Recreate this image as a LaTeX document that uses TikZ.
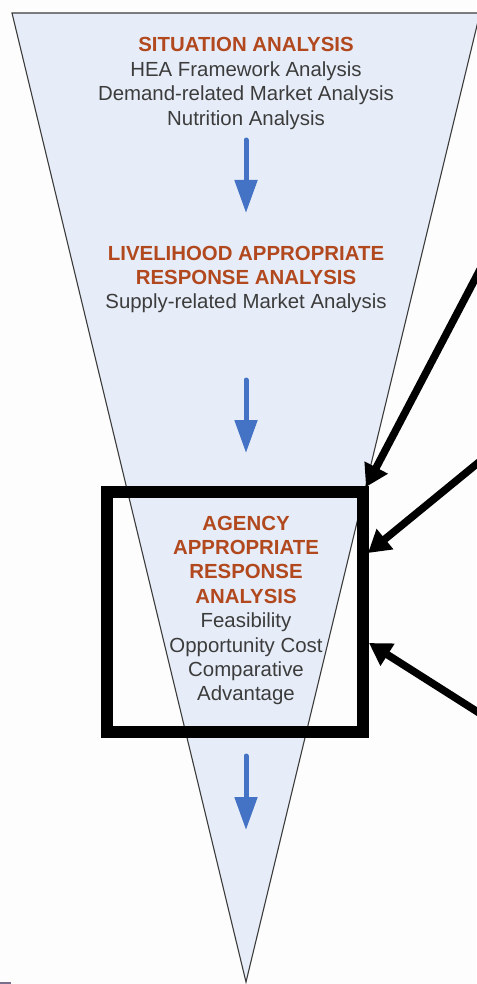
\documentclass[tikz,border=0pt]{standalone}
\usepackage{fontspec}
\setmainfont{Liberation Sans}
\usetikzlibrary{arrows.meta}
\definecolor{funnelfill}{RGB}{230,237,248}
\definecolor{funneledge}{RGB}{60,60,60}
\definecolor{headcol}{RGB}{178,72,30}
\definecolor{bodycol}{RGB}{60,60,60}
\definecolor{flowblue}{RGB}{68,114,196}
\definecolor{bgcol}{RGB}{253,253,253}
\definecolor{markcol}{RGB}{120,110,140}
\tikzset{
  headline/.style={anchor=base, inner sep=0pt, text=headcol, font=\fontsize{20.4}{24.4}\selectfont\bfseries},
  bodyline/.style={anchor=base, inner sep=0pt, text=bodycol, font=\fontsize{20.4}{24.4}\selectfont},
  flowarrow/.style={draw=flowblue, line width=5pt, -{Triangle[length=33pt,width=22pt]}, shorten >=0pt},
  pointer/.style={draw=black, line width=7.5pt, -{Triangle[length=22pt,width=25pt]}},
  focusbox/.style={draw=black, line width=12pt, minimum width=256pt, minimum height=239.5pt, inner sep=0pt}
}
\begin{document}
\begin{tikzpicture}[x=1pt,y=-1pt]
\useasboundingbox (0,0) rectangle (476,984);
\fill[bgcol] (0,0) rectangle (476,984);
\fill[markcol] (0,982) rectangle (11,984);
% funnel
\filldraw[fill=funnelfill, draw=funneledge, line width=1.1pt, line join=miter] (12,13) -- (480,13) -- (246,982) -- cycle;
% block 1
\node[headline] (s1) at (246,52) {SITUATION ANALYSIS};
\node[bodyline] (s2) at (246,76.4) {HEA Framework Analysis};
\node[bodyline] (s3) at (246,100.8) {Demand-related Market Analysis};
\node[bodyline] (s4) at (246,125.2) {Nutrition Analysis};
% block 2
\node[headline] (l1) at (246,260) {LIVELIHOOD APPROPRIATE};
\node[headline] (l2) at (246,284.4) {RESPONSE ANALYSIS};
\node[bodyline] (l3) at (246,308.8) {Supply-related Market Analysis};
% block 3
\node[headline] (a1) at (246,530) {AGENCY};
\node[headline] (a2) at (246,554.4) {APPROPRIATE};
\node[headline] (a3) at (246,578.8) {RESPONSE};
\node[headline] (a4) at (246,603.2) {ANALYSIS};
\node[bodyline] (a5) at (246,627.6) {Feasibility};
\node[bodyline] (a6) at (246,652) {Opportunity Cost};
\node[bodyline] (a7) at (246,676.4) {Comparative};
\node[bodyline] (a8) at (246,700.8) {Advantage};
% blue flow arrows
\coordinate (f1s) at (246,140); \coordinate (f1e) at (246,213);
\coordinate (f2s) at (246,380); \coordinate (f2e) at (246,453);
\coordinate (f3s) at (246,756); \coordinate (f3e) at (246,830);
\draw[flowarrow, line cap=round] (f1s) -- (f1e);
\draw[flowarrow, line cap=round] (f2s) -- (f2e);
\draw[flowarrow, line cap=round] (f3s) -- (f3e);
% focus box
\node[focusbox] (box) at (235,611.75) {};
% pointer arrows
\coordinate (p1s) at (484,262); \coordinate (p1e) at (366,487);
\coordinate (p2s) at (484,458); \coordinate (p2e) at (368,553);
\coordinate (p3s) at (484,716); \coordinate (p3e) at (369,643);
\draw[pointer] (p1s) -- (p1e);
\draw[pointer] (p2s) -- (p2e);
\draw[pointer] (p3s) -- (p3e);
\end{tikzpicture}
\end{document}
